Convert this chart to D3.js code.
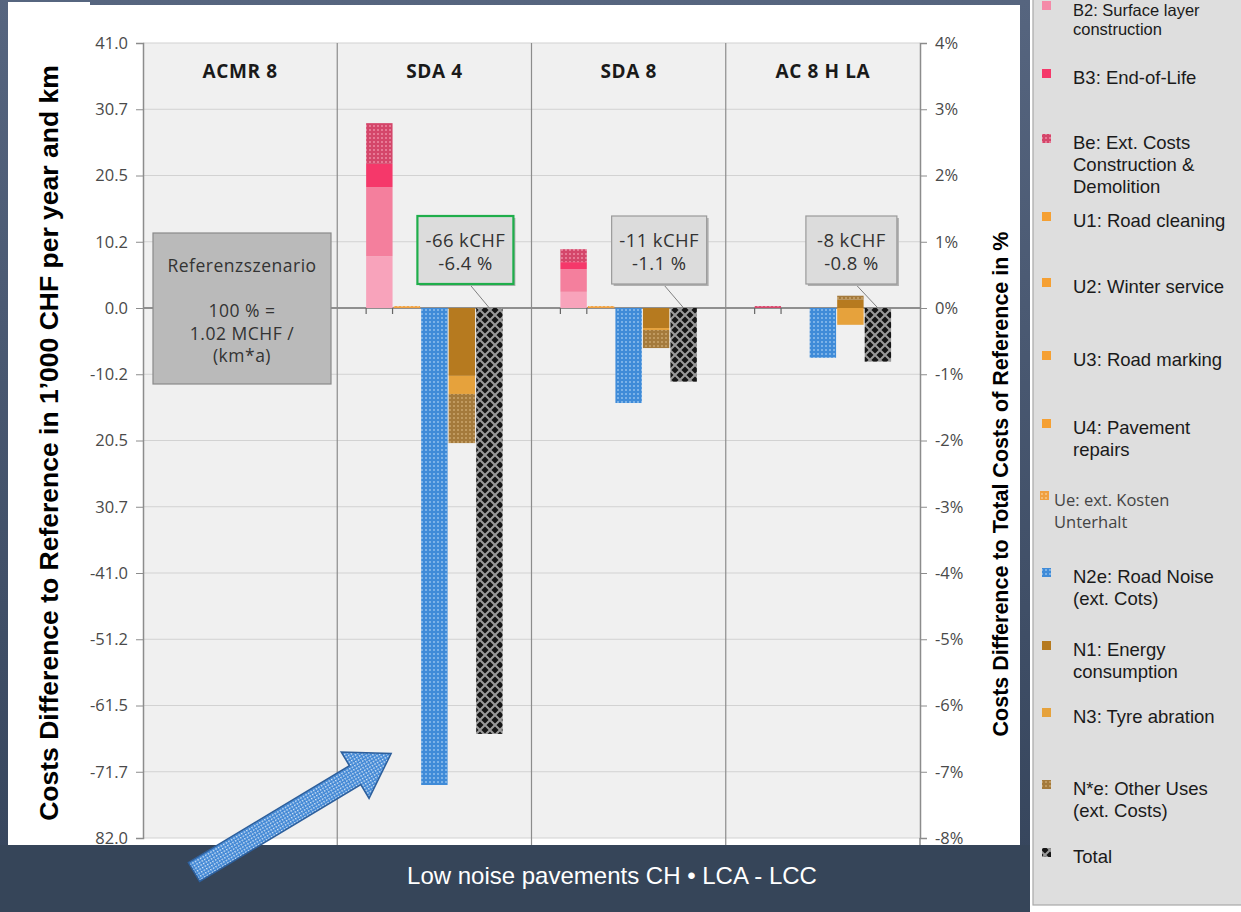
<!DOCTYPE html>
<html>
<head>
<meta charset="utf-8">
<script src="https://cdn.jsdelivr.net/npm/d3@7"></script>
<style>
  body { margin: 0; background: #ffffff; }
  svg { display: block; }
</style>
</head>
<body>
<div id="chart-area"></div>
<script>
// values in 1'000 CHF per year and km, difference to reference (ACMR 8)
const categories = ["ACMR 8", "SDA 4", "SDA 8", "AC 8 H LA"];
const B1 = [0, 8.0, 2.5, 0];
const B2 = [0, 10.7, 3.5, 0];
const B3 = [0, 3.6, 1.1, 0];
const Be = [0, 6.3, 2.0, 0.3];
const U1 = [0, 0, 0, 0];
const U2 = [0, 0, 0, 0];
const U3 = [0, 0, 0, 0];
const U4 = [0, 0, 0, 0];
const Ue = [0, 0.3, 0.3, 0];
const N2e = [0, -73.8, -14.7, -7.7];
const N1 = [0, -10.5, -3.1, 1.3];
const N3 = [0, -2.8, -0.3, -2.6];
const Ne = [0, -7.6, -2.8, 0.6];
const Total = [0, -65.9, -11.4, -8.3];

const leftTicks = [41.0, 30.75, 20.5, 10.25, 0, -10.25, -20.5, -30.75, -41.0, -51.25, -61.5, -71.75, -82.0];
const leftTickLabels = ["41.0", "30.7", "20.5", "10.2", "0.0", "-10.2", "20.5", "30.7", "-41.0", "-51.2", "-61.5", "-71.7", "82.0"];
const rightTicks = [4, 3, 2, 1, 0, -1, -2, -3, -4, -5, -6, -7, -8];
const rightTickLabels = ["4%", "3%", "2%", "1%", "0%", "-1%", "-2%", "-3%", "-4%", "-5%", "-6%", "-7%", "-8%"];

const boxLabels = ["", "-66 kCHF|-6.4 %", "-11 kCHF|-1.1 %", "-8 kCHF|-0.8 %"];

const legendNames = [
  "B2: Surface layer|construction", "B3: End-of-Life", "Be: Ext. Costs|Construction &|Demolition",
  "U1: Road cleaning", "U2: Winter service", "U3: Road marking", "U4: Pavement|repairs",
  "Ue: ext. Kosten|Unterhalt", "N2e: Road Noise|(ext. Cots)", "N1: Energy|consumption",
  "N3: Tyre abration", "N*e: Other Uses|(ext. Costs)", "Total"
];

// which bar slot each series goes into
const groups = [
  ["B1", "B2", "B3", "Be"],
  ["U1", "U2", "U3", "U4", "Ue"],
  ["N2e"],
  ["N1", "N3", "Ne"],
  ["Total"]
];

const fills = {
  B1: "#f8a3bb", B2: "#f47f9d", B3: "#f5386a", Be: "url(#dotRed)",
  U1: "#f5a033", U2: "#f5a033", U3: "#f5a033", U4: "#f5a033", Ue: "url(#dotOrange)",
  N2e: "url(#dotBlue)", N1: "#b67a1f", N3: "#e6a23c", Ne: "url(#dotBrown)",
  Total: "url(#lattice)"
};
const legendKeys = ["B2", "B3", "Be", "U1", "U2", "U3", "U4", "Ue", "N2e", "N1", "N3", "Ne", "Total"];
const legendY = [10, 78, 143, 221, 287, 360, 428, 500, 577, 650, 717, 789, 857];

const values = { B1, B2, B3, Be, U1, U2, U3, U4, Ue, N2e, N1, N3, Ne, Total };
const rows = categories.map((c, i) => {
  const r = { cat: c };
  Object.keys(values).forEach(k => { r[k] = values[k][i]; });
  return r;
});

const W = 1241, H = 912;
const svg = d3.select("#chart-area").append("svg")
  .attr("width", W)
  .attr("height", H);

const defs = svg.append("defs");

function dotPattern(id, bg, dot, size) {
  const p = defs.append("pattern")
    .attr("id", id)
    .attr("patternUnits", "userSpaceOnUse")
    .attr("width", size).attr("height", size);
  p.append("rect").attr("width", size).attr("height", size).attr("fill", bg);
  p.append("circle").attr("cx", size / 2).attr("cy", size / 2).attr("r", size / 4).attr("fill", dot);
}
dotPattern("dotRed", "#d4466a", "#ee8aa3", 4);
dotPattern("dotOrange", "#f0a040", "#f7c88a", 4);
dotPattern("dotBlue", "#3f8bd8", "#8fc0ee", 4);
dotPattern("dotBrown", "#a47a3c", "#caa56c", 4);

const lat = defs.append("pattern")
  .attr("id", "lattice")
  .attr("patternUnits", "userSpaceOnUse")
  .attr("width", 10).attr("height", 10);
lat.append("rect").attr("width", 10).attr("height", 10).attr("fill", "#151515");
lat.append("path").attr("d", "M0,0 L10,10 M10,0 L0,10").attr("stroke", "#9a9a9a").attr("stroke-width", 2);

const arrowPat = defs.append("pattern")
  .attr("id", "arrowPat")
  .attr("patternUnits", "userSpaceOnUse")
  .attr("width", 3).attr("height", 3);
arrowPat.append("rect").attr("width", 3).attr("height", 3).attr("fill", "#3f86d4");
arrowPat.append("rect").attr("width", 1.5).attr("height", 1.5).attr("fill", "#dbe9f8");

const pageGrad = defs.append("linearGradient")
  .attr("id", "pageGrad").attr("x1", 0).attr("y1", 0).attr("x2", 0).attr("y2", 1);
pageGrad.append("stop").attr("offset", "0%").attr("stop-color", "#56657f");
pageGrad.append("stop").attr("offset", "100%").attr("stop-color", "#35445b");

// slide background
svg.append("rect").attr("width", 1030).attr("height", H).attr("fill", "url(#pageGrad)");
svg.append("rect").attr("x", 8).attr("y", 5).attr("width", 1012).attr("height", 840).attr("fill", "#ffffff");
svg.append("rect").attr("x", 8).attr("y", 2).attr("width", 82).attr("height", 10).attr("fill", "#ffffff");
svg.append("rect").attr("x", 0).attr("y", 845).attr("width", 1030).attr("height", 67).attr("fill", "#364559");

// plot
const x0 = 143, x1 = 920, yTop = 43, yBot = 838;

const x = d3.scaleBand()
  .domain(categories)
  .range([x0, x1]);

const xs = d3.scaleBand()
  .domain(d3.range(groups.length))
  .range([0, x.bandwidth()])
  .paddingInner(0.04)
  .paddingOuter(1.05);

const y = d3.scaleLinear()
  .domain([-82, 41])
  .range([yBot, yTop]);

const yr = d3.scaleLinear()
  .domain([-8, 4])
  .range([yBot, yTop]);

svg.append("rect")
  .attr("x", x0).attr("y", yTop)
  .attr("width", x1 - x0).attr("height", yBot - yTop)
  .attr("fill", "#f0f0f0");

// horizontal grid
svg.append("g")
  .selectAll("line")
  .data(leftTicks).enter()
  .append("line")
    .attr("x1", x0).attr("x2", x1)
    .attr("y1", d => y(d)).attr("y2", d => y(d))
    .attr("stroke", d => d === 0 ? "#6f6f6f" : "#d2d2d2")
    .attr("stroke-width", d => d === 0 ? 1.5 : 1.2);

// category separators
svg.append("g")
  .selectAll("line")
  .data(categories.slice(1)).enter()
  .append("line")
    .attr("x1", d => x(d)).attr("x2", d => x(d))
    .attr("y1", yTop).attr("y2", 845)
    .attr("stroke", "#8c8c8c")
    .attr("stroke-width", 1.2);

// left axis
const yAxis = d3.axisLeft(y)
  .tickValues(leftTicks)
  .tickFormat((d, i) => leftTickLabels[i])
  .tickSize(7)
  .tickPadding(8);

const gy = svg.append("g")
  .attr("transform", `translate(${x0},0)`)
  .call(yAxis);
gy.select(".domain").attr("stroke", "#8c8c8c").attr("stroke-width", 1.5);
gy.selectAll(".tick line").attr("stroke", "#8c8c8c");
gy.selectAll("text")
  .attr("font-family", "'Open Sans', sans-serif")
  .attr("font-size", 16.5)
  .attr("fill", "#4a4a4a");

// right axis
const yrAxis = d3.axisRight(yr)
  .tickValues(rightTicks)
  .tickFormat((d, i) => rightTickLabels[i])
  .tickSize(7)
  .tickPadding(8);

const gr = svg.append("g")
  .attr("transform", `translate(${x1},0)`)
  .call(yrAxis);
gr.select(".domain").attr("stroke", "#8c8c8c").attr("stroke-width", 1.5);
gr.selectAll(".tick line").attr("stroke", "#8c8c8c");
gr.selectAll("text")
  .attr("font-family", "'Open Sans', sans-serif")
  .attr("font-size", 16.5)
  .attr("fill", "#4a4a4a");
svg.append("line")
  .attr("x1", x1).attr("x2", x1).attr("y1", yBot).attr("y2", 845)
  .attr("stroke", "#8c8c8c").attr("stroke-width", 1.5);

// category names
svg.append("g")
  .selectAll("text")
  .data(categories).enter()
  .append("text")
    .attr("x", d => x(d) + x.bandwidth() / 2)
    .attr("y", 78)
    .attr("text-anchor", "middle")
    .attr("font-family", "'Open Sans', sans-serif")
    .attr("font-weight", "bold")
    .attr("font-size", 19)
    .attr("letter-spacing", 0.6)
    .attr("fill", "#1a1a1a")
    .text(d => d);

// small x ticks under first slot
categories.slice(1).forEach(c => {
  [xs(0), xs(0) + xs.bandwidth()].forEach(px => {
    svg.append("line")
      .attr("x1", x(c) + px).attr("x2", x(c) + px)
      .attr("y1", y(0)).attr("y2", y(0) + 6)
      .attr("stroke", "#666").attr("stroke-width", 1.2);
  });
});

// stacked bars
groups.forEach((keys, gi) => {
  const series = d3.stack()
    .keys(keys)
    .offset(d3.stackOffsetDiverging)(rows);

  svg.append("g")
    .selectAll("g")
    .data(series).enter()
    .append("g")
      .attr("fill", d => fills[d.key])
    .selectAll("rect")
    .data(d => d).enter()
    .append("rect")
      .attr("x", d => x(d.data.cat) + xs(gi))
      .attr("y", d => y(Math.max(d[0], d[1])))
      .attr("width", xs.bandwidth())
      .attr("height", d => Math.abs(y(d[0]) - y(d[1])));
});

// reference box
const ref = svg.append("g");
ref.append("rect")
  .attr("x", 153).attr("y", 233).attr("width", 178).attr("height", 151)
  .attr("fill", "#bababa").attr("stroke", "#8a8a8a").attr("stroke-width", 1.2);
["Referenzszenario", "", "100 % =", "1.02 MCHF /", "(km*a)"].forEach((t, i) => {
  ref.append("text")
    .attr("x", 242).attr("y", 272 + i * 22.5)
    .attr("text-anchor", "middle")
    .attr("font-family", "'Open Sans', sans-serif")
    .attr("font-size", 17.5)
    .attr("letter-spacing", 0.5)
    .attr("fill", "#333")
    .text(t);
});

// total labels with leader lines
const boxW = [0, 96, 95, 91], boxH = 68;
categories.forEach((c, i) => {
  if (!boxLabels[i]) return;
  const tx = x(c) + xs(4) + xs.bandwidth() / 2;
  const bx = tx - 72;
  const by = y(0) - 92;
  const g = svg.append("g");
  g.append("line")
    .attr("x1", bx + boxW[i] / 2 + 4).attr("y1", by + boxH)
    .attr("x2", tx).attr("y2", y(0))
    .attr("stroke", "#808080").attr("stroke-width", 1);
  g.append("rect")
    .attr("x", bx + 2).attr("y", by + 2).attr("width", boxW[i]).attr("height", boxH)
    .attr("fill", "#b0b0b0");
  g.append("rect")
    .attr("x", bx).attr("y", by).attr("width", boxW[i]).attr("height", boxH)
    .attr("fill", "#dcdcdc")
    .attr("stroke", i === 1 ? "#1fae4b" : "#9a9a9a")
    .attr("stroke-width", i === 1 ? 2.2 : 1.2);
  boxLabels[i].split("|").forEach((t, j) => {
    g.append("text")
      .attr("x", bx + boxW[i] / 2).attr("y", by + 31 + j * 23)
      .attr("text-anchor", "middle")
      .attr("font-family", "'Open Sans', sans-serif")
      .attr("font-size", 18.5)
      .attr("letter-spacing", 0.4)
      .attr("fill", "#333")
      .text(t);
  });
});

// axis titles
svg.append("text")
  .attr("transform", "translate(58,443) rotate(-90)")
  .attr("text-anchor", "middle")
  .attr("font-family", "'Liberation Sans', Arial, sans-serif")
  .attr("font-weight", "bold")
  .attr("font-size", 26.5)
  .attr("fill", "#000")
  .text("Costs Difference to Reference in 1’000 CHF per year and km");

svg.append("text")
  .attr("transform", "translate(1008,484) rotate(-90)")
  .attr("text-anchor", "middle")
  .attr("font-family", "'Liberation Sans', Arial, sans-serif")
  .attr("font-weight", "bold")
  .attr("font-size", 21.5)
  .attr("fill", "#000")
  .text("Costs Difference to Total Costs of Reference in %");

// footer text
svg.append("text")
  .attr("x", 612).attr("y", 884)
  .attr("text-anchor", "middle")
  .attr("font-family", "'Liberation Sans Narrow', 'Arial Narrow', sans-serif")
  .attr("font-size", 24)
  .attr("fill", "#ffffff")
  .text("Low noise pavements CH • LCA - LCC");

// blue arrow pointing at the SDA 4 noise bar
const L = 230, sw = 11, hl = 42, hw = 27;
svg.append("path")
  .attr("transform", "translate(194,872) rotate(-31)")
  .attr("d", `M0,${-sw} L${L - hl},${-sw} L${L - hl},${-hw} L${L},0 L${L - hl},${hw} L${L - hl},${sw} L0,${sw} Z`)
  .attr("fill", "url(#arrowPat)")
  .attr("stroke", "#2d5f9c")
  .attr("stroke-width", 1.5);

// legend panel
svg.append("rect")
  .attr("x", 1033).attr("y", -2).attr("width", 212).attr("height", 907)
  .attr("fill", "#dedede")
  .attr("stroke", "#a8a8a8").attr("stroke-width", 1.2);

const leg = svg.append("g");
legendKeys.forEach((k, i) => {
  const lines = legendNames[i].split("|");
  const top = legendY[i];
  const isUe = k === "Ue";
  const gap = k === "B2" ? 19 : 22;
  leg.append("rect")
    .attr("x", isUe ? 1040 : 1042).attr("y", top - 9)
    .attr("width", 9).attr("height", 9)
    .attr("fill", k === "B2" ? "#f48aa8" : fills[k]);
  lines.forEach((t, j) => {
    leg.append("text")
      .attr("x", isUe ? 1054 : 1073).attr("y", top + 6 + j * gap)
      .attr("font-family", isUe ? "'Open Sans', sans-serif" : "'Liberation Sans', Arial, sans-serif")
      .attr("font-size", isUe ? 16.5 : (k === "B2" ? 16.5 : 18.5))
      .attr("fill", isUe ? "#444" : "#1a1a1a")
      .text(t);
  });
});
</script>
</body>
</html>
